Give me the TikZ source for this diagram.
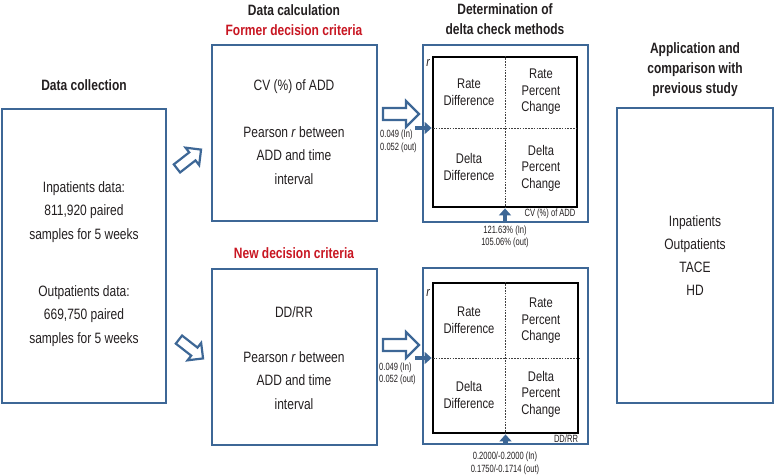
\documentclass[tikz,border=0pt]{standalone}
\usepackage{fontspec}
\setmainfont[FakeStretch=0.8]{Liberation Sans}
\newfontfamily\smallfont[FakeStretch=0.72]{Liberation Sans}
\usetikzlibrary{arrows.meta}
\newcommand{\myfs}[2]{\fontsize{#1}{#2}\selectfont}
\definecolor{boxblue}{RGB}{61,103,150}
\definecolor{critred}{RGB}{200,22,34}
\definecolor{txtcol}{RGB}{35,31,32}
\tikzset{
 bluebox/.style={draw=boxblue, line width=2.4pt, inner sep=0pt, fill=white},
 gridbox/.style={draw=black, line width=2.8pt, inner sep=0pt},
 head/.style={font=\bfseries\myfs{15}{20}, align=center, inner sep=0pt},
 redhead/.style={font=\bfseries\myfs{15}{20}, text=critred, inner sep=0pt},
 body/.style={font=\myfs{15}{23.5}, align=center, inner sep=0pt},
 cell/.style={font=\myfs{14}{16.5}, align=center, inner sep=0pt},
 tiny/.style={font=\smallfont\myfs{10.5}{12.5}, align=center, inner sep=0pt},
 rlabel/.style={font=\itshape\myfs{13}{13}, inner sep=0pt},
 divider/.style={draw=black!75, line width=0.6pt, dash pattern=on 1.6pt off 1.2pt},
 fillarrow/.style={draw=boxblue, line width=4.5pt, -{Triangle[length=7pt,width=12pt]}},
 harrow/.style={draw=boxblue, line width=2.2pt, fill=white, line join=miter},
 hollowarrow/.pic={\path[harrow] (-18,-6)--(5,-6)--(5,-13)--(18,0)--(5,13)--(5,6)--(-18,6)--cycle;}
}
\begin{document}
\begin{tikzpicture}[x=1pt,y=-1pt,text=txtcol]
\useasboundingbox (0,0) rectangle (775,474);

% ---------- column 1 ----------
\node[head] (hcol) at (84,85) {Data collection};
\node[bluebox, minimum width=164pt, minimum height=294pt] (collect) at (84,256) {};
\node[body] (inpt) at (84,212) {Inpatients data:\\811,920 paired\\samples for 5 weeks};
\node[body] (outpt) at (84,316) {Outpatients data:\\669,750 paired\\samples for 5 weeks};

% ---------- column 2 ----------
\node[head] (hcalc) at (294,10) {Data calculation};
\node[redhead] (hformer) at (294,30) {Former decision criteria};
\node[bluebox, minimum width=165pt, minimum height=176pt] (calc1) at (294.5,133) {};
\node[body] (cv) at (294,87) {CV (\%) of ADD};
\node[body] (pear1) at (294,155.5) {Pearson \textit{r} between\\ADD and time\\interval};

\node[redhead] (hnew) at (294,253) {New decision criteria};
\node[bluebox, minimum width=165pt, minimum height=176pt] (calc2) at (294.5,357) {};
\node[body] (ddrr) at (294,312) {DD/RR};
\node[body] (pear2) at (294,380.5) {Pearson \textit{r} between\\ADD and time\\interval};

% ---------- column 3 ----------
\node[head] (hdet) at (505,19) {Determination of\\delta check methods};

\node[bluebox, minimum width=165pt, minimum height=177pt] (outer1) at (505.5,133.5) {};
\node[gridbox, minimum width=144pt, minimum height=150pt] (inner1) at (505,132) {};
\coordinate (h1) at (433,128);
\draw[divider] (inner1.north) -- (inner1.south);
\draw[divider] (h1) -- (h1 -| inner1.east);
\node[cell] (rd1) at (469,92) {Rate\\Difference};
\node[cell] (rpc1) at (541,92) {Rate\\Percent\\Change};
\node[cell] (dd1) at (469,167) {Delta\\Difference};
\node[cell] (dpc1) at (541,168) {Delta\\Percent\\Change};
\node[rlabel] (r1) at (428,63) {r};
\node[tiny] (cvlab) at (550,214) {CV (\%) of ADD};

\node[bluebox, minimum width=165pt, minimum height=176pt] (outer2) at (505.5,356) {};
\node[gridbox, minimum width=145pt, minimum height=150pt] (inner2) at (505.5,358) {};
\coordinate (h2) at (433,358);
\draw[divider] (inner2.north) -- (inner2.south);
\draw[divider] (h2) -- (h2 -| inner2.east);
\node[cell] (rd2) at (469,320) {Rate\\Difference};
\node[cell] (rpc2) at (541,321) {Rate\\Percent\\Change};
\node[cell] (dd2) at (469,395) {Delta\\Difference};
\node[cell] (dpc2) at (541,394) {Delta\\Percent\\Change};
\node[rlabel] (r2) at (428,293) {r};
\node[tiny] (ddlab) at (566,439) {DD/RR};

% small labels
\node[tiny, align=left, anchor=west] (lab1) at (380,141.5) {0.049 (In)\\0.052 (out)};
\node[tiny, align=left, anchor=west] (lab2) at (379,374) {0.049 (In)\\0.052 (out)};
\node[tiny] (lab3) at (505,237) {121.63\% (In)\\105.06\% (out)};
\node[tiny] (lab4) at (505,463.5) {0.2000/-0.2000 (In)\\0.1750/-0.1714 (out)};

% ---------- column 4 ----------
\node[head] (happ) at (695,70) {Application and\\comparison with\\previous study};
\node[bluebox, minimum width=156pt, minimum height=295pt] (apply) at (695,255.5) {};
\node[body, font=\myfs{15}{23}] (groups) at (695,255.5) {Inpatients\\Outpatients\\TACE\\HD};

% ---------- hollow arrows ----------
\pic[rotate=38, scale=0.85] at (189,159) {hollowarrow};
\pic[rotate=-38, scale=0.85] at (191,349) {hollowarrow};
\pic at (401,114) {hollowarrow};
\pic at (401,345) {hollowarrow};

% ---------- small filled arrows ----------
\coordinate (a1) at (415,128);
\coordinate (a2) at (415,358);
\draw[fillarrow] (a1) -- (a1 -| inner1.west);
\draw[fillarrow] (a2) -- (a2 -| inner2.west);
\draw[fillarrow] (outer1.south -| inner1.south) -- (inner1.south);
\draw[fillarrow] (outer2.south -| inner2.south) -- (inner2.south);
\end{tikzpicture}
\end{document}
